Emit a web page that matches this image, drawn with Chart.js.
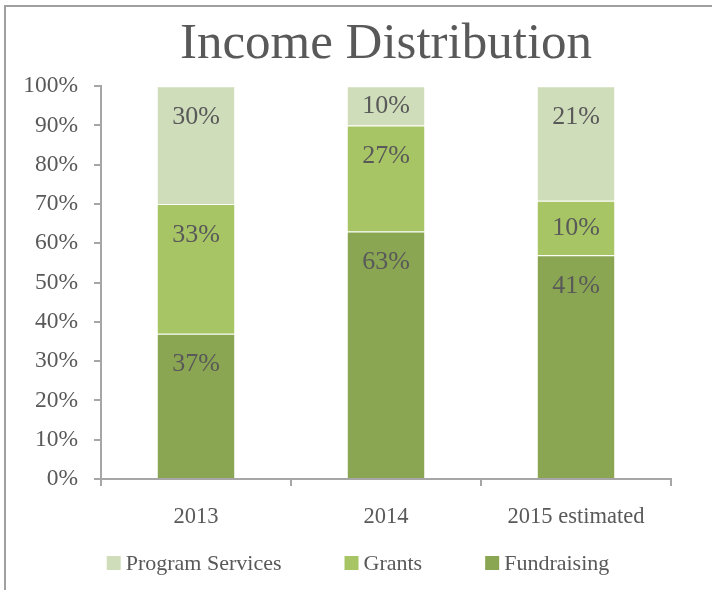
<!DOCTYPE html>
<html>
<head>
<meta charset="utf-8">
<style>
  html, body { margin: 0; padding: 0; background: #ffffff; }
  #wrap { position: relative; width: 712px; height: 590px; }
</style>
<script src="https://cdn.jsdelivr.net/npm/chart.js@4/dist/chart.umd.min.js"></script>
</head>
<body>
<div id="wrap"><canvas id="c" width="712" height="590"></canvas></div>
<script>
const categories = ['2013', '2014', '2015 estimated'];
const seriesNames = ['Fundraising', 'Grants', 'Program Services'];
const fundraising = [37, 63, 41];
const grants = [33, 27, 10];
const programServices = [30, 10, 21];
const yTickLabels = ['0%', '10%', '20%', '30%', '40%', '50%', '60%', '70%', '80%', '90%', '100%'];
const colors = ['#8aa652', '#a7c565', '#cfddba'];

const raw = [fundraising, grants, programServices];
const totals = categories.map((_, i) => raw.reduce((s, a) => s + a[i], 0));
const pct = raw.map(a => a.map((v, i) => v / totals[i] * 100));

const serif = "'Liberation Serif', 'DejaVu Serif', serif";
const textColor = '#595959';
const axisColor = '#a6a6a6';

const frame = {
  id: 'frame',
  beforeDraw(chart) {
    const ctx = chart.ctx;
    ctx.save();
    ctx.strokeStyle = '#a0a0a0';
    ctx.lineWidth = 2;
    ctx.beginPath();
    ctx.moveTo(5, 590);
    ctx.lineTo(5, 6);
    ctx.lineTo(712, 6);
    ctx.stroke();
    ctx.restore();
  }
};

const labels = {
  id: 'segLabels',
  afterDatasetsDraw(chart) {
    const ctx = chart.ctx;
    ctx.save();
    ctx.font = "26px " + serif;
    ctx.fillStyle = textColor;
    ctx.textAlign = 'center';
    ctx.textBaseline = 'middle';
    chart.data.datasets.forEach((ds, di) => {
      const meta = chart.getDatasetMeta(di);
      meta.data.forEach((el, i) => {
        const h = el.base - el.y;
        const y = el.y + Math.min(31, h / 2);
        ctx.fillText(raw[di][i] + '%', el.x, y);
      });
    });
    ctx.restore();
  }
};

const legendPlugin = {
  id: 'customLegend',
  afterDraw(chart) {
    const ctx = chart.ctx;
    ctx.save();
    ctx.font = "22px " + serif;
    ctx.textBaseline = 'middle';
    ctx.textAlign = 'left';
    const order = [2, 1, 0];
    const box = 14, gapText = 5, gapItem = 63;
    const widths = order.map(di => box + gapText + ctx.measureText(chart.data.datasets[di].label).width);
    const total = widths.reduce((a, b) => a + b, 0) + gapItem * (order.length - 1);
    let x = 358 - total / 2;
    const y = 563;
    order.forEach((di, k) => {
      const ds = chart.data.datasets[di];
      ctx.fillStyle = ds.backgroundColor;
      ctx.fillRect(x, y - box / 2, box, box);
      ctx.fillStyle = textColor;
      ctx.fillText(ds.label, x + box + gapText, y + 1);
      x += widths[k] + gapItem;
    });
    ctx.restore();
  }
};

new Chart(document.getElementById('c'), {
  type: 'bar',
  data: {
    labels: categories,
    datasets: seriesNames.map((name, di) => ({
      label: name,
      data: pct[di],
      backgroundColor: colors[di],
      borderColor: 'rgba(255,255,255,0.25)',
      borderWidth: { top: 1, bottom: 0, left: 0, right: 0 },
      borderSkipped: 'bottom',
      barPercentage: 0.405,
      categoryPercentage: 1
    }))
  },
  options: {
    responsive: false,
    animation: false,
    devicePixelRatio: 1,
    layout: { padding: { left: 0, right: 41, top: 0, bottom: 41 } },
    plugins: {
      legend: { display: false },
      tooltip: { enabled: false },
      title: {
        display: true,
        text: 'Income Distribution',
        fullSize: false,
        color: textColor,
        font: { family: serif, size: 51, weight: 'normal' },
        padding: { top: 14, bottom: 11 }
      }
    },
    scales: {
      x: {
        stacked: true,
        grid: { display: true, drawOnChartArea: false, drawTicks: true, tickLength: 7, color: axisColor, lineWidth: 2 },
        border: { display: true, color: axisColor, width: 2 },
        ticks: { color: textColor, font: { family: serif, size: 22.5 }, padding: 18 },
        afterFit(scale) { scale.height = 70; }
      },
      y: {
        stacked: true,
        min: 0,
        max: 100,
        grid: { display: true, drawOnChartArea: false, drawTicks: true, tickLength: 7, color: axisColor, lineWidth: 2 },
        border: { display: true, color: axisColor, width: 2 },
        ticks: {
          stepSize: 10,
          color: textColor,
          font: { family: serif, size: 23.5 },
          padding: 16,
          callback: (v) => yTickLabels[Math.round(v / 10)]
        },
        afterFit(scale) { scale.width = 101; }
      }
    }
  },
  plugins: [frame, labels, legendPlugin]
});
</script>
</body>
</html>
